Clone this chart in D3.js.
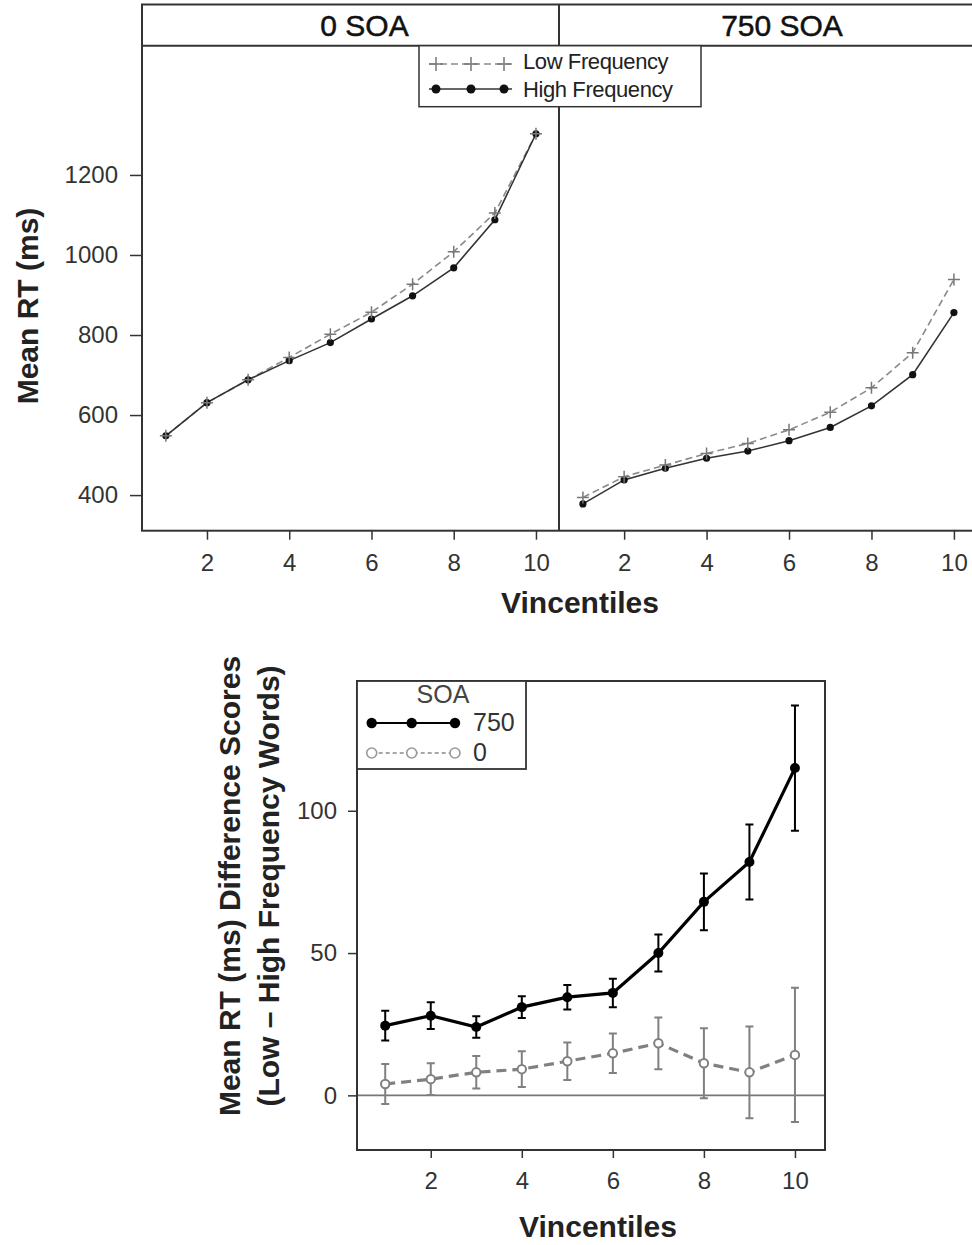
<!DOCTYPE html>
<html>
<head>
<meta charset="utf-8">
<script src="https://cdn.jsdelivr.net/npm/d3@7"></script>
<style>
  html, body { margin: 0; padding: 0; background: #fff; }
  svg { display: block; font-family: "Liberation Sans", Arial, sans-serif; }
</style>
</head>
<body>
<svg id="chart" width="972" height="1245"></svg>
<script>
// ---- Data: mean RT by vincentile, word frequency x SOA ----
const vincentiles = [1, 2, 3, 4, 5, 6, 7, 8, 9, 10];
const panels = ["0 SOA", "750 SOA"];

const lowFreqSOA0   = [548, 631, 688, 744, 802, 857, 927, 1008, 1105, 1303];
const highFreqSOA0  = [548, 631, 688, 736, 781, 840, 898, 968, 1088, 1303];
const lowFreqSOA750  = [394, 446, 475, 504, 529, 563, 607, 668, 756, 939];
const highFreqSOA750 = [378, 438, 467, 492, 510, 536, 569, 623, 701, 856];

// Low - High frequency difference scores with error bar half-widths
const diffSOA750 = [24.5, 28, 24, 31, 34.5, 36, 50, 68, 82, 115];
const errSOA750  = [5.2, 4.7, 3.8, 3.8, 4.3, 5, 6.5, 10, 13.2, 22];
const diffSOA0   = [4.0, 5.7, 8.1, 9.2, 12.0, 14.8, 18.3, 11.3, 8.1, 14.2];
const errSOA0    = [7, 5.6, 5.7, 6.3, 6.6, 6.9, 9.1, 12.3, 16.1, 23.6];

const rtTicks = [400, 600, 800, 1000, 1200];
const vincTicks = [2, 4, 6, 8, 10];
const diffTicks = [0, 50, 100];
const freqLegend = ["Low Frequency", "High Frequency"];
const soaLegend = ["750", "0"];

const svg = d3.select("#chart");
const frameColor = "#333";
const textColor = "#222";
const tickFmt = d3.format("d");

// ================= Top: faceted RT curves =================
const facet = { left: 142, right: 977, top: 4.5, strip: 45.7, bottom: 530.7 };
const mid = 559;
const xTopL = d3.scaleLinear().domain([0.42, 10.56]).range([facet.left, mid]);
const xTopR = d3.scaleLinear().domain([0.42, 10.56]).range([mid, facet.right]);
const yTop = d3.scaleLinear().domain([311, 1523]).range([facet.bottom, facet.strip]);

const panelDefs = [
  { name: panels[0], x: xTopL, low: lowFreqSOA0, high: highFreqSOA0, x0: facet.left, x1: mid },
  { name: panels[1], x: xTopR, low: lowFreqSOA750, high: highFreqSOA750, x0: mid, x1: facet.right }
];

panelDefs.forEach(p => {
  const g = svg.append("g");
  const clipId = "clip-" + p.name.replace(/\s/g, "");
  svg.append("clipPath").attr("id", clipId).append("rect")
    .attr("x", p.x0).attr("y", facet.strip).attr("width", p.x1 - p.x0).attr("height", facet.bottom - facet.strip);
  const plot = g.append("g").attr("clip-path", `url(#${clipId})`);

  const line = vals => d3.line().x((d, i) => p.x(vincentiles[i])).y(d => yTop(d))(vals);

  // low frequency: dashed grey with plus markers
  plot.append("path").attr("d", line(p.low)).attr("fill", "none")
    .attr("stroke", "#8a8a8a").attr("stroke-width", 1.6).attr("stroke-dasharray", "7,4");
  // high frequency: solid dark with filled dots
  plot.append("path").attr("d", line(p.high)).attr("fill", "none")
    .attr("stroke", "#333").attr("stroke-width", 1.6);
  plot.selectAll(".dot").data(p.high).join("circle")
    .attr("cx", (d, i) => p.x(vincentiles[i])).attr("cy", d => yTop(d)).attr("r", 3.6).attr("fill", "#111");
  plot.selectAll(".plus").data(p.low).join("path")
    .attr("d", (d, i) => {
      const cx = p.x(vincentiles[i]), cy = yTop(d), s = 6;
      return `M${cx - s},${cy}H${cx + s}M${cx},${cy - s}V${cy + s}`;
    })
    .attr("stroke", "#777").attr("stroke-width", 1.5).attr("fill", "none");

  // x axis
  const ax = g.append("g").attr("transform", `translate(0,${facet.bottom})`)
    .call(d3.axisBottom(p.x).tickValues(vincTicks).tickFormat(tickFmt).tickSize(9).tickPadding(14));
  ax.select(".domain").remove();
  ax.selectAll("line").attr("stroke", frameColor).attr("stroke-width", 1.5);
  ax.selectAll("text").attr("font-size", 24).attr("fill", "#333")
    .attr("font-family", "Liberation Sans, Arial, sans-serif");

  // strip label
  g.append("text").attr("x", (p.x0 + p.x1) / 2 + 14).attr("y", (facet.top + facet.strip) / 2)
    .attr("dominant-baseline", "central").attr("text-anchor", "middle")
    .attr("font-size", 30).attr("fill", "#111").attr("stroke", "#111").attr("stroke-width", 0.5)
    .text(p.name);
});

// y axis (left panel only)
const ayTop = svg.append("g").attr("transform", `translate(${facet.left},0)`)
  .call(d3.axisLeft(yTop).tickValues(rtTicks).tickFormat(tickFmt).tickSize(12).tickPadding(12));
ayTop.select(".domain").remove();
ayTop.selectAll("line").attr("stroke", frameColor).attr("stroke-width", 1.5);
ayTop.selectAll("text").attr("font-size", 24).attr("fill", "#333")
  .attr("font-family", "Liberation Sans, Arial, sans-serif");

// frames
svg.append("rect").attr("x", facet.left).attr("y", facet.top)
  .attr("width", facet.right - facet.left).attr("height", facet.bottom - facet.top)
  .attr("fill", "none").attr("stroke", frameColor).attr("stroke-width", 2);
svg.append("line").attr("x1", facet.left).attr("x2", facet.right).attr("y1", facet.strip).attr("y2", facet.strip)
  .attr("stroke", frameColor).attr("stroke-width", 2);
svg.append("line").attr("x1", mid).attr("x2", mid).attr("y1", facet.top).attr("y2", facet.bottom)
  .attr("stroke", frameColor).attr("stroke-width", 2);

// frequency legend
const lg = svg.append("g");
lg.append("rect").attr("x", 419).attr("y", facet.strip).attr("width", 282).attr("height", 61)
  .attr("fill", "#fff").attr("stroke", frameColor).attr("stroke-width", 1.5);
const legMarkX = [436, 471, 504];
[64, 89].forEach((ly, k) => {
  const isLow = k === 0;
  lg.append("line").attr("x1", 429).attr("x2", 512).attr("y1", ly).attr("y2", ly)
    .attr("stroke", isLow ? "#8a8a8a" : "#333").attr("stroke-width", 1.6)
    .attr("stroke-dasharray", isLow ? "7,4" : null);
  legMarkX.forEach(mx => {
    if (isLow) {
      lg.append("path").attr("d", `M${mx - 7},${ly}H${mx + 7}M${mx},${ly - 7}V${ly + 7}`)
        .attr("stroke", "#777").attr("stroke-width", 1.5);
    } else {
      lg.append("circle").attr("cx", mx).attr("cy", ly).attr("r", 4.5).attr("fill", "#111");
    }
  });
  lg.append("text").attr("x", 523).attr("y", ly - (isLow ? 3 : 0)).attr("dominant-baseline", "central")
    .attr("font-size", 22).attr("letter-spacing", -0.4).attr("fill", textColor).text(freqLegend[k]);
});

// axis titles
svg.append("text").attr("transform", "translate(27,306) rotate(-90)")
  .attr("text-anchor", "middle").attr("dominant-baseline", "central")
  .attr("font-size", 30).attr("font-weight", "bold").attr("fill", textColor).text("Mean RT (ms)");
svg.append("text").attr("x", 580).attr("y", 613).attr("text-anchor", "middle")
  .attr("font-size", 30).attr("font-weight", "bold").attr("fill", textColor).text("Vincentiles");

// ================= Bottom: difference scores =================
const bot = { left: 357, right: 825, top: 681, bottom: 1150 };
const xB = d3.scaleLinear().domain([0.38, 10.66]).range([bot.left, bot.right]);
const yB = d3.scaleLinear().domain([-19.2, 145.6]).range([bot.bottom, bot.top]);

// zero reference line
svg.append("line").attr("x1", bot.left).attr("x2", bot.right).attr("y1", yB(0)).attr("y2", yB(0))
  .attr("stroke", "#777").attr("stroke-width", 1.6);

function drawSeries(vals, errs, color, dash, filled) {
  const g = svg.append("g");
  // error bars
  vals.forEach((v, i) => {
    const cx = xB(vincentiles[i]), y1 = yB(v + errs[i]), y2 = yB(v - errs[i]);
    g.append("path").attr("d", `M${cx},${y1}V${y2}M${cx - 4},${y1}H${cx + 4}M${cx - 4},${y2}H${cx + 4}`)
      .attr("stroke", color).attr("stroke-width", 2).attr("fill", "none");
  });
  g.append("path").attr("d", d3.line().x((d, i) => xB(vincentiles[i])).y(d => yB(d))(vals))
    .attr("fill", "none").attr("stroke", color).attr("stroke-width", 3.2)
    .attr("stroke-dasharray", dash);
  g.selectAll("circle").data(vals).join("circle")
    .attr("cx", (d, i) => xB(vincentiles[i])).attr("cy", d => yB(d))
    .attr("r", filled ? 5 : 4.2)
    .attr("fill", filled ? color : "#fff")
    .attr("stroke", color).attr("stroke-width", filled ? 0 : 2);
}
drawSeries(diffSOA0, errSOA0, "#808080", "10,6", false);
drawSeries(diffSOA750, errSOA750, "#000", null, true);

// axes
const axB = svg.append("g").attr("transform", `translate(0,${bot.bottom})`)
  .call(d3.axisBottom(xB).tickValues(vincTicks).tickFormat(tickFmt).tickSize(8).tickPadding(14));
axB.select(".domain").remove();
axB.selectAll("line").attr("stroke", frameColor).attr("stroke-width", 1.5);
axB.selectAll("text").attr("font-size", 24).attr("fill", "#333")
  .attr("font-family", "Liberation Sans, Arial, sans-serif");

const ayB = svg.append("g").attr("transform", `translate(${bot.left},0)`)
  .call(d3.axisLeft(yB).tickValues(diffTicks).tickFormat(tickFmt).tickSize(9).tickPadding(11));
ayB.select(".domain").remove();
ayB.selectAll("line").attr("stroke", frameColor).attr("stroke-width", 1.5);
ayB.selectAll("text").attr("font-size", 24).attr("fill", "#333")
  .attr("font-family", "Liberation Sans, Arial, sans-serif");

svg.append("rect").attr("x", bot.left).attr("y", bot.top)
  .attr("width", bot.right - bot.left).attr("height", bot.bottom - bot.top)
  .attr("fill", "none").attr("stroke", frameColor).attr("stroke-width", 2);

// SOA legend
const lb = svg.append("g");
lb.append("rect").attr("x", bot.left).attr("y", bot.top).attr("width", 169).attr("height", 88)
  .attr("fill", "#fff").attr("stroke", frameColor).attr("stroke-width", 1.8);
lb.append("text").attr("x", 443).attr("y", 694).attr("text-anchor", "middle").attr("dominant-baseline", "central")
  .attr("font-size", 25).attr("fill", "#444").text("SOA");
const soaMarkX = [371.7, 411.7, 455];
[723, 753].forEach((ly, k) => {
  const isHi = k === 0;
  lb.append("line").attr("x1", 371.7).attr("x2", 455).attr("y1", ly).attr("y2", ly)
    .attr("stroke", isHi ? "#000" : "#8a8a8a").attr("stroke-width", isHi ? 2.2 : 1.3)
    .attr("stroke-dasharray", isHi ? null : "4,3");
  soaMarkX.forEach(mx => {
    lb.append("circle").attr("cx", mx).attr("cy", ly).attr("r", isHi ? 5.2 : 5)
      .attr("fill", isHi ? "#000" : "#fff").attr("stroke", isHi ? "#000" : "#999")
      .attr("stroke-width", isHi ? 0 : 1.6);
  });
  lb.append("text").attr("x", 473).attr("y", ly - 1).attr("dominant-baseline", "central")
    .attr("font-size", 25).attr("fill", "#333").text(soaLegend[k]);
});

// axis titles
svg.append("text").attr("transform", "translate(229,886) rotate(-90)")
  .attr("text-anchor", "middle").attr("dominant-baseline", "central")
  .attr("font-size", 30).attr("font-weight", "bold").attr("fill", textColor)
  .text("Mean RT (ms) Difference Scores");
svg.append("text").attr("transform", "translate(268.5,886) rotate(-90)")
  .attr("text-anchor", "middle").attr("dominant-baseline", "central")
  .attr("font-size", 30).attr("font-weight", "bold").attr("fill", textColor)
  .text("(Low \u2013 High Frequency Words)");
svg.append("text").attr("x", 598).attr("y", 1237).attr("text-anchor", "middle")
  .attr("font-size", 30).attr("font-weight", "bold").attr("fill", textColor).text("Vincentiles");
</script>
</body>
</html>
